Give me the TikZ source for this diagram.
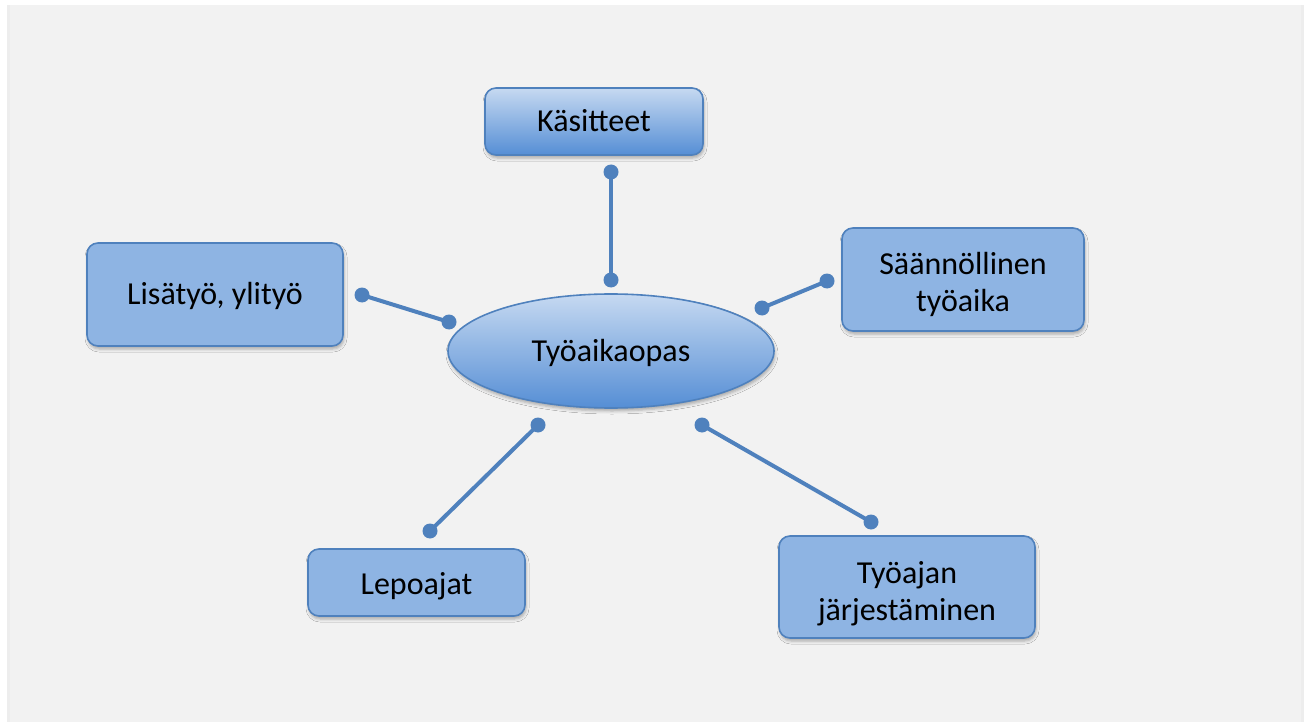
\documentclass[tikz,border=0pt]{standalone}
\usepackage{fontspec}
\setmainfont{Carlito}
\usetikzlibrary{shapes.geometric,shadows,shadows.blur}
\definecolor{panelgrey}{HTML}{F2F2F2}
\definecolor{boxblue}{HTML}{8EB4E3}
\definecolor{edgeblue}{HTML}{4F81BD}
\definecolor{lineblue}{HTML}{4F81BD}
\definecolor{gradtop}{HTML}{C6D9F1}
\definecolor{gradbot}{HTML}{558ED5}
\tikzset{
  softshadow/.style={blur shadow={shadow xshift=1pt, shadow yshift=-3pt,
    shadow blur radius=3pt, shadow opacity=30}},
  topic/.style={draw=edgeblue, line width=1.6pt, fill=boxblue, rounded corners=11pt,
    inner sep=0pt, softshadow},
  gradtopic/.style={topic, top color=gradtop, bottom color=gradbot},
  hub/.style={ellipse, draw=edgeblue, line width=1.6pt, top color=gradtop,
    bottom color=gradbot, inner sep=0pt, softshadow},
  txt/.style={anchor=base, inner sep=0pt, font=\fontsize{32}{37}\selectfont},
  link/.style={draw=lineblue, line width=4pt},
  dot/.style={fill=lineblue}
}
\begin{document}
\begin{tikzpicture}[x=1pt,y=-1pt]
  \useasboundingbox (0,0) rectangle (1304,722);
  \fill[white] (0,0) rectangle (1304,722);
  % panel with a faint shadow along its sides
  \fill[black!7] (7,5) rectangle (1304,722);
  \fill[panelgrey] (10,5) rectangle (1301,722);

  % centre
  \node[hub, minimum width=326pt, minimum height=114pt] (hub) at (611,351) {};
  \node[txt] (hub-t) at ([yshift=-10.7pt]hub.center) {Työaikaopas};

  % topics
  \node[gradtopic, minimum width=218pt, minimum height=67pt] (kas) at (594,121.5) {};
  \node[txt] (kas-t) at ([yshift=-10.2pt]kas.center) {Käsitteet};

  \node[topic, minimum width=242pt, minimum height=103pt] (saa) at (963,279.5) {};
  \node[txt] (saa-t1) at ([yshift=5.2pt]saa.center) {Säännöllinen};
  \node[txt] (saa-t2) at ([yshift=-32.2pt]saa.center) {työaika};

  \node[topic, minimum width=256pt, minimum height=103pt] (lis) at (215,294.5) {};
  \node[txt] (lis-t) at ([yshift=-9.8pt]lis.center) {Lisätyö, ylityö};

  \node[topic, minimum width=217pt, minimum height=67pt] (lep) at (416.5,582.5) {};
  \node[txt] (lep-t) at ([yshift=-11.8pt]lep.center) {Lepoajat};

  \node[topic, minimum width=256pt, minimum height=102pt] (jar) at (907,587) {};
  \node[txt] (jar-t1) at ([yshift=3.7pt]jar.center) {Työajan};
  \node[txt] (jar-t2) at ([yshift=-33.7pt]jar.center) {järjestäminen};

  % connector ends
  \coordinate (k1) at (611,172);  \coordinate (k2) at (611,280);
  \coordinate (l1) at (362,295);  \coordinate (l2) at (449,322);
  \coordinate (s1) at (762,308);  \coordinate (s2) at (827,281);
  \coordinate (p1) at (538,425);  \coordinate (p2) at (430,531);
  \coordinate (j1) at (702,425);  \coordinate (j2) at (871,522);

  \foreach \a/\b in {k1/k2, l1/l2, s1/s2, p1/p2, j1/j2}{
    \draw[link] (\a) -- (\b);
    \fill[dot] (\a) circle (7.5pt);
    \fill[dot] (\b) circle (7.5pt);
  }
\end{tikzpicture}
\end{document}
